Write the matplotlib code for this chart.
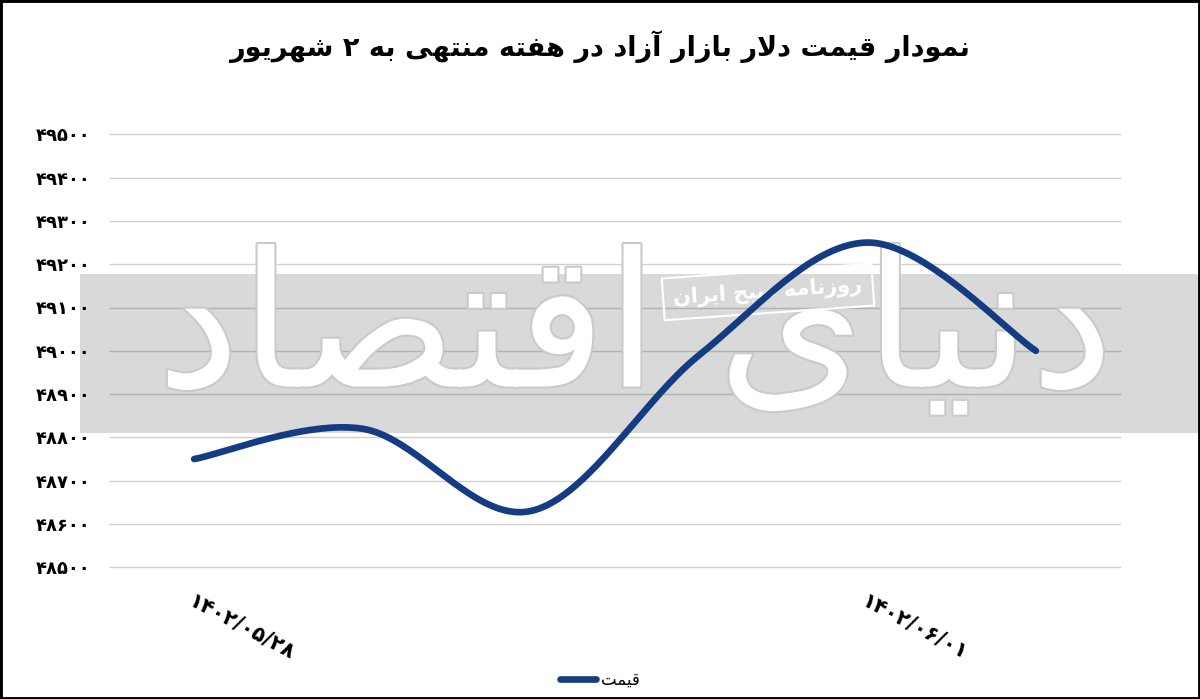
import numpy as np
import matplotlib
matplotlib.use("Agg")
import matplotlib.pyplot as plt
from matplotlib.patches import Rectangle
from matplotlib import patheffects

# data
dates = ['۱۴۰۲/۰۵/۲۸', '۱۴۰۲/۰۵/۲۹', '۱۴۰۲/۰۵/۳۰', '۱۴۰۲/۰۵/۳۱', '۱۴۰۲/۰۶/۰۱', '۱۴۰۲/۰۶/۰۲']
price = [48750, 48820, 48630, 48990, 49250, 49000]
yticks = [48500, 48600, 48700, 48800, 48900, 49000, 49100, 49200, 49300, 49400, 49500]
shown_dates = [0, 4]

title = 'نمودار قیمت دلار بازار آزاد در هفته منتهی به ۲ شهریور'
legend_label = 'قیمت'
mark_big = 'دنیای اقتصاد'
mark_small = 'روزنامه صبح ایران'

line_color = '#143c82'

# matplotlib has no arabic shaping, so use presentation forms by hand
FORMS = {
    'ا': ('\uFE8D', '\uFE8E', None, None),
    'آ': ('\uFE81', '\uFE82', None, None),
    'ب': ('\uFE8F', '\uFE90', '\uFE91', '\uFE92'),
    'ت': ('\uFE95', '\uFE96', '\uFE97', '\uFE98'),
    'ج': ('\uFE9D', '\uFE9E', '\uFE9F', '\uFEA0'),
    'ح': ('\uFEA1', '\uFEA2', '\uFEA3', '\uFEA4'),
    'د': ('\uFEA9', '\uFEAA', None, None),
    'ر': ('\uFEAD', '\uFEAE', None, None),
    'ز': ('\uFEAF', '\uFEB0', None, None),
    'ش': ('\uFEB5', '\uFEB6', '\uFEB7', '\uFEB8'),
    'ص': ('\uFEB9', '\uFEBA', '\uFEBB', '\uFEBC'),
    'ف': ('\uFED1', '\uFED2', '\uFED3', '\uFED4'),
    'ق': ('\uFED5', '\uFED6', '\uFED7', '\uFED8'),
    'ل': ('\uFEDD', '\uFEDE', '\uFEDF', '\uFEE0'),
    'م': ('\uFEE1', '\uFEE2', '\uFEE3', '\uFEE4'),
    'ن': ('\uFEE5', '\uFEE6', '\uFEE7', '\uFEE8'),
    'ه': ('\uFEE9', '\uFEEA', '\uFEEB', '\uFEEC'),
    'و': ('\uFEED', '\uFEEE', None, None),
    'ی': ('\uFEEF', '\uFEF0', '\uFEF3', '\uFEF4'),
}


def dual(c):
    return c in FORMS and FORMS[c][2] is not None


def fa(text):
    chars = list(text)
    out = []
    i = 0
    while i < len(chars):
        c = chars[i]
        prev = chars[i - 1] if i > 0 else ''
        if c not in FORMS:
            out.append(c)
            i += 1
            continue
        joins_prev = dual(prev)
        if c == 'ل' and i + 1 < len(chars) and chars[i + 1] == 'ا':
            out.append('\uFEFC' if joins_prev else '\uFEFB')
            i += 2
            continue
        nxt = chars[i + 1] if i + 1 < len(chars) else ''
        joins_next = dual(c) and nxt in FORMS
        iso, fin, ini, med = FORMS[c]
        if joins_prev and joins_next:
            out.append(med)
        elif joins_prev:
            out.append(fin)
        elif joins_next:
            out.append(ini)
        else:
            out.append(iso)
        i += 1
    return ''.join(reversed(out))


def fa_digits(n):
    return str(n).translate(str.maketrans('0123456789', '۰۱۲۳۴۵۶۷۸۹'))


def smooth(xs, ys, n=40):
    # catmull-rom as cubic bezier, like the office smoothed line
    px, py = [], []
    m = len(xs)
    for i in range(m - 1):
        i0 = max(i - 1, 0)
        i3 = min(i + 2, m - 1)
        p0 = np.array([xs[i], ys[i]], float)
        p3 = np.array([xs[i + 1], ys[i + 1]], float)
        c1 = p0 + (p3 - np.array([xs[i0], ys[i0]], float)) / 6.0
        c2 = p3 - (np.array([xs[i3], ys[i3]], float) - p0) / 6.0
        t = np.linspace(0, 1, n)[:, None]
        pts = (1 - t) ** 3 * p0 + 3 * (1 - t) ** 2 * t * c1 + 3 * (1 - t) * t ** 2 * c2 + t ** 3 * p3
        px.extend(pts[:, 0])
        py.extend(pts[:, 1])
    return px, py


W, H = 1200, 699
fig = plt.figure(figsize=(W / 100, H / 100), dpi=100)
ax = fig.add_axes([110 / W, 1 - 567.3 / H, 1010 / W, 433 / H])

x = np.arange(len(price))
sx, sy = smooth(x, price)
line, = ax.plot(sx, sy, color=line_color, lw=4.8, solid_capstyle='round', zorder=4)

ax.set_xlim(-0.5, len(price) - 0.5)
ax.set_ylim(48500, 49500)
ax.set_yticks(yticks)
ax.set_yticklabels([fa_digits(v) for v in yticks], fontsize=13, fontweight='bold')
ax.set_xticks(shown_dates)
ax.set_xticklabels([dates[i] for i in shown_dates], fontsize=15, fontweight='bold',
                   rotation=-28, ha='left', va='top', rotation_mode='anchor')
ax.tick_params(axis='y', length=0, pad=14)
ax.tick_params(axis='x', length=0, pad=17)
ax.grid(axis='y', color='#d0d0d0', lw=1)
ax.set_axisbelow(True)
for gl in ax.get_ygridlines():
    gl.set_clip_on(False)
for s in ax.spines.values():
    s.set_visible(False)

# watermark band and text
band = Rectangle((80 / W, 1 - 433 / H), 1118 / W, 159 / H, transform=fig.transFigure,
                 facecolor='black', alpha=0.15, lw=0, zorder=2, clip_on=False)
ax.add_patch(band)
ax.text(635 / W, 1 - 335 / H, fa(mark_big), transform=fig.transFigure, fontsize=135,
        color='white', ha='center', va='center', zorder=3,
        path_effects=[patheffects.withStroke(linewidth=3, foreground='#cacaca')])
ax.text(768 / W, 1 - 292 / H, fa(mark_small), transform=fig.transFigure, fontsize=15,
        fontweight='bold', color='white', ha='center', va='center', rotation=4, zorder=3,
        bbox=dict(boxstyle='square,pad=0.5', fc='none', ec='white', lw=1.5))

fig.text(0.5, 1 - 47 / H, fa(title), fontsize=19.5, fontweight='bold', ha='center', va='center')

fig.legend([line], [fa(legend_label)], loc='center', bbox_to_anchor=(600 / W, 1 - 680 / H),
           frameon=False, fontsize=12, handlelength=2.2, handletextpad=0.3)

fig.patches.append(Rectangle((0, 0), 1, 1, transform=fig.transFigure, fill=False,
                             ec='black', lw=3.5, zorder=10))

fig.savefig('out.png', dpi=100)
